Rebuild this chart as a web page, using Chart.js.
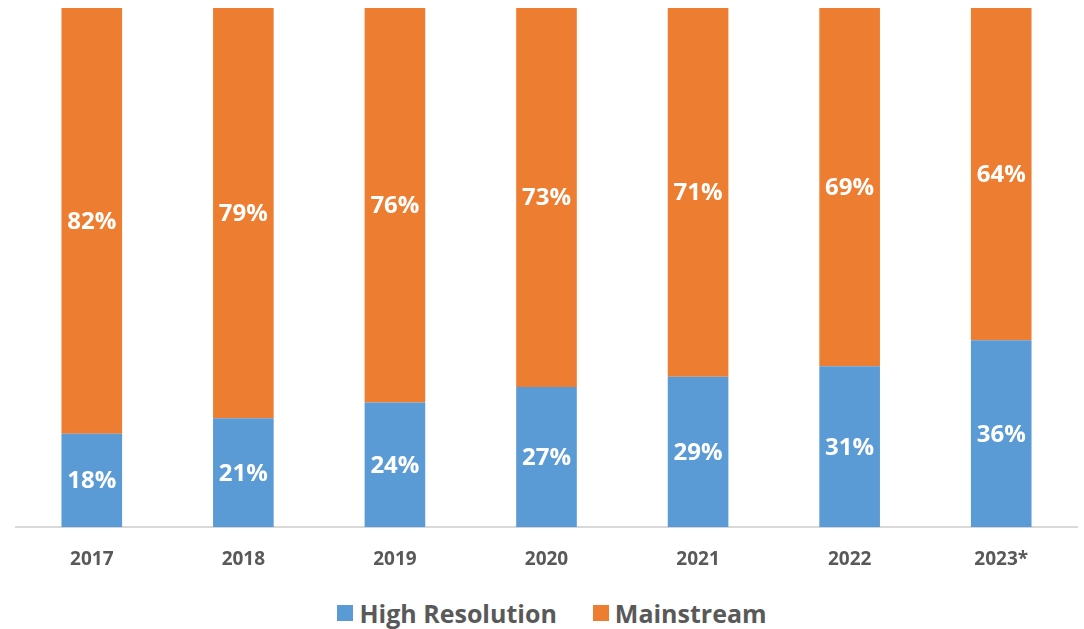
<!DOCTYPE html>
<html>
<head>
<meta charset="utf-8">
<script src="https://cdn.jsdelivr.net/npm/chart.js@4/dist/chart.umd.min.js"></script>
<style>
  html, body { margin: 0; padding: 0; background: #fff; }
  #wrap { width: 1084px; height: 629px; position: relative; }
  #plot { position: absolute; left: 0; top: 0; width: 1084px; height: 584px; }
  #legend {
    position: absolute; left: 0; top: 597px; width: 1084px;
    display: flex; justify-content: center; padding-left: 20px; box-sizing: border-box;
    font-family: 'Open Sans', 'DejaVu Sans', sans-serif; font-weight: bold; font-size: 25px;
    color: #595959; line-height: 32px;
  }
  .item { display: flex; align-items: center; margin: 0 18px; }
  .swatch { width: 16px; height: 16px; margin-right: 6px; }
</style>
</head>
<body>
<div id="wrap">
  <div id="plot"><canvas id="chart"></canvas></div>
  <div id="legend"></div>
</div>
<script>
const years = ['2017', '2018', '2019', '2020', '2021', '2022', '2023*'];
const highResolution = [18, 21, 24, 27, 29, 31, 36];
const mainstream = [82, 79, 76, 73, 71, 69, 64];
const seriesNames = ['High Resolution', 'Mainstream'];
const seriesColors = ['#5B9BD5', '#ED7D31'];

const FONT = "'Open Sans', 'DejaVu Sans', sans-serif";

// draws the white percentage in the middle of each segment
const segmentLabels = {
  id: 'segmentLabels',
  afterDatasetsDraw(chart) {
    const ctx = chart.ctx;
    ctx.save();
    ctx.fillStyle = '#ffffff';
    ctx.font = `bold 24px ${FONT}`;
    ctx.textAlign = 'center';
    ctx.textBaseline = 'middle';
    chart.data.datasets.forEach((ds, i) => {
      chart.getDatasetMeta(i).data.forEach((bar, j) => {
        const mid = (bar.y + bar.base) / 2;
        ctx.fillText(ds.data[j] + '%', bar.x, mid + 1);
      });
    });
    ctx.restore();
  }
};

const chart = new Chart(document.getElementById('chart'), {
  type: 'bar',
  data: {
    labels: years,
    datasets: [
      { label: seriesNames[0], data: highResolution, backgroundColor: seriesColors[0] },
      { label: seriesNames[1], data: mainstream, backgroundColor: seriesColors[1] }
    ]
  },
  options: {
    responsive: true,
    maintainAspectRatio: false,
    animation: false,
    categoryPercentage: 1,
    barPercentage: 0.4,
    layout: { padding: { left: 16, right: 7, top: 8, bottom: 0 } },
    plugins: {
      tooltip: { enabled: false },
      legend: { display: false }
    },
    scales: {
      x: {
        stacked: true,
        grid: { display: false },
        border: { color: '#d9d9d9', width: 2 },
        ticks: {
          color: '#595959',
          padding: 13,
          font: { family: FONT, size: 19, weight: 'bold' }
        }
      },
      y: {
        stacked: true,
        display: false,
        min: 0,
        max: 100
      }
    }
  },
  plugins: [segmentLabels]
});

// legend underneath, built from the datasets
const legend = document.getElementById('legend');
chart.data.datasets.forEach(ds => {
  const item = document.createElement('div');
  item.className = 'item';
  item.innerHTML = `<span class="swatch" style="background:${ds.backgroundColor}"></span>${ds.label}`;
  legend.appendChild(item);
});
</script>
</body>
</html>
